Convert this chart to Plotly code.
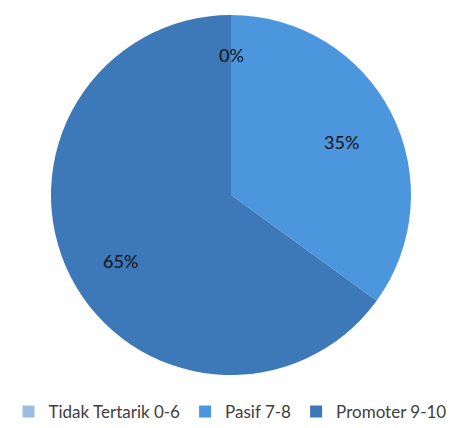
import math
import plotly.graph_objects as go

categories = ["Tidak Tertarik 0-6", "Pasif 7-8", "Promoter 9-10"]
values = [0, 35, 65]
colors = ["#9DBDE2", "#4C96DE", "#3D78B9"]
label_texts = ["0%", "35%", "65%"]

W, H = 459, 428
OFF = 8  # default page body margin
cx, cy, R = 231 - OFF, 195 - OFF, 180

fig = go.Figure(go.Pie(
    labels=categories, values=values, sort=False, direction="clockwise",
    rotation=0, marker=dict(colors=colors, line=dict(width=0)),
    textinfo="none", hoverinfo="label+percent",
    domain=dict(x=[(cx - R) / W, (cx + R) / W], y=[(H - cy - R) / H, (H - cy + R) / H]),
))

total = sum(values)
cum = 0
ann = []
for v, t in zip(values, label_texts):
    mid = (cum + v / 2) / total * 2 * math.pi
    cum += v
    rr = 0.81 * R if v > 0 else 0.85 * R
    x = cx + rr * math.sin(mid)
    y = cy - rr * math.cos(mid)
    ann.append(dict(x=x / W, y=1 - y / H, xref="paper", yref="paper", text=t,
                    showarrow=False, font=dict(size=18, color="#111111", family="Lato")))

fig.update_layout(
    width=W, height=H, margin=dict(l=0, r=0, t=0, b=0),
    paper_bgcolor="white", plot_bgcolor="white",
    annotations=ann,
    legend=dict(orientation="h", x=(230 - OFF) / W, xanchor="center", y=1 - (412 - OFF) / H, yanchor="middle",
                font=dict(size=17, color="#404040", family="Lato"), itemwidth=30,
                traceorder="normal"),
)
fig.write_html("out.html")
